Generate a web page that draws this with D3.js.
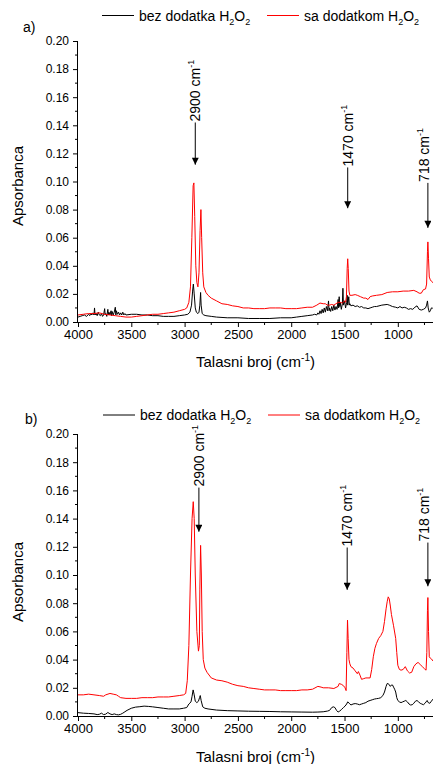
<!DOCTYPE html>
<html><head><meta charset="utf-8">
<script src="https://cdn.jsdelivr.net/npm/d3@7"></script>
<style>
html,body{margin:0;padding:0;background:#fff;}
svg{display:block;font-family:"Liberation Sans",Arial,sans-serif;}
</style></head>
<body>
<svg id="chart" width="433" height="764"></svg>
<script>
// ---------- DATA ----------
const xTicks = [4000, 3500, 3000, 2500, 2000, 1500, 1000];
const yTicks = [0.00, 0.02, 0.04, 0.06, 0.08, 0.10, 0.12, 0.14, 0.16, 0.18, 0.20];
const seriesNames = ["bez dodatka", "sa dodatkom"];

// panel a) black (bez dodatka H2O2): wavenumber, absorbance*1000
const aBlackWn = [4000,3980,3960,3940,3920,3900,3890,3880,3870,3860,3850,3845,3840,3830,3820,3810,3800,3790,3780,3770,3760,3750,3745,3740,3730,3720,3715,3710,3700,3690,3685,3680,3670,3660,3650,3645,3640,3630,3620,3610,3600,3590,3580,3570,3560,3550,3500,3450,3400,3350,3300,3250,3200,3150,3100,3050,3000,2970,2950,2935,2925,2918,2910,2900,2890,2875,2865,2857,2850,2845,2835,2820,2800,2750,2700,2600,2500,2400,2300,2200,2100,2000,1950,1900,1850,1800,1780,1760,1750,1740,1730,1720,1710,1700,1690,1680,1670,1660,1650,1645,1640,1630,1620,1610,1600,1590,1580,1570,1560,1555,1550,1545,1540,1530,1520,1515,1510,1500,1490,1480,1475,1470,1460,1455,1450,1440,1420,1400,1380,1360,1340,1320,1300,1280,1260,1240,1220,1200,1150,1100,1080,1050,1020,1000,980,960,940,920,900,880,860,840,820,800,780,760,740,730,722,715,705,695,685,675,670];
const aBlackAbs = [3.5,4,4.5,5,4,5.5,4.5,6,5,6.5,5,10,5,6,4.5,7,5,4.5,6,4,5,9.5,5,6,4,9,5,7,5,8,4.5,7.5,5,7,10.5,5,8,5.5,7,5,6.5,5,7,5,6,5,5.5,5.5,5,5,4.5,4.5,4,4,4,4.5,5,5.5,7,12,22,27,20,10,7,6,7,12,21,12,6,5,4.5,4,3.5,3,3,2.5,2.5,2.5,3,3,3.5,4,4.5,5,5.5,5,6.5,5.5,8,6,9,6.5,10,7,11,8,15,8,10,7.5,11,8,12,8.5,11,9,16,10,18,11,14,9,13,24,12,15,10,14,19,12,18,12,13,11.5,12,11,11.5,10.5,11,10,10,9.5,10,10.5,11,11,12,12.5,12,11,10.5,10,11,10,10.5,10,9,9.5,9,10.5,11.5,9,8.5,9,10,12,15,10,7,8,10,10,9.5];

// panel a) red (sa dodatkom H2O2)
const aRedWn = [4000,3950,3900,3850,3800,3750,3700,3650,3600,3550,3500,3450,3400,3350,3300,3250,3200,3150,3100,3050,3000,2980,2960,2945,2932,2920,2913,2905,2895,2885,2875,2865,2855,2847,2840,2830,2820,2800,2780,2750,2700,2650,2600,2550,2500,2450,2400,2350,2300,2250,2200,2150,2100,2050,2000,1950,1900,1850,1800,1760,1730,1700,1680,1660,1640,1620,1600,1580,1560,1540,1520,1500,1490,1482,1475,1470,1465,1458,1450,1430,1400,1380,1350,1320,1300,1280,1260,1240,1200,1150,1100,1050,1000,950,900,850,820,800,780,760,740,730,722,718,712,705,695,685,670];
const aRedAbs = [5,5.5,6,6,6.5,5.5,5,4.5,4,3.5,3.5,4,4.5,5,5.5,5.5,6,6.5,7,8,9,10,14,25,60,97,99,75,40,28,25,35,65,80,60,35,25,21,19,17,15,13,12.5,11.5,11,10,10,9.5,9.5,9.5,10,10,10,9.5,9.5,9.5,10,10.5,10.5,12,13.5,13,13,12,12,12.5,12,13,14,14,13.5,15,14,18,38,45,38,22,19,19,19.5,19,18,17,17,16,18,18.5,19,19.5,21,21.5,21.5,22,22,22.5,21.5,20.5,20.5,23,23.5,27,50,57,45,32,30,29,28];

// panel b) black
const bBlackWn = [4000,3950,3900,3850,3820,3800,3780,3760,3740,3720,3700,3680,3660,3640,3620,3600,3580,3560,3540,3500,3460,3420,3380,3340,3300,3250,3200,3150,3100,3050,3010,2980,2960,2940,2930,2920,2910,2900,2885,2870,2860,2853,2845,2830,2810,2780,2700,2600,2500,2400,2300,2200,2100,2000,1900,1800,1750,1700,1660,1640,1620,1605,1590,1575,1560,1545,1530,1510,1495,1480,1470,1455,1440,1420,1400,1380,1360,1340,1320,1300,1280,1260,1240,1220,1200,1180,1160,1140,1125,1110,1100,1090,1080,1070,1060,1050,1040,1030,1020,1010,1000,985,970,955,940,925,910,895,880,865,850,835,820,805,790,775,760,745,735,725,715,700,685,670];
const bBlackAbs = [2.4,2,1.8,1.5,1,1.2,2,1,1.3,2.5,1.5,1,1.5,1,0.8,1.2,2,3,4,5.5,6.3,6.6,7,6.8,6.5,6,5.5,5,5,5,5.5,6,8.5,10,14,18.5,15,10.5,9.5,10.5,13,14.5,11,6.5,5.5,5,4.2,3.8,3.6,3.4,3.3,3.2,3,2.9,2.8,2.7,2.8,3,3.5,4,6,6.5,6,4,2.8,3.5,4.5,6,7,8.5,10,9,7.8,8.5,8.8,8.5,8,8.5,9,9.5,10.5,11,11.5,12,12.3,12.5,13,14.5,17,21,23,23,22,21,22,22,20.5,19,17,13,11,10,9.5,10,10.5,11,10,8.5,7.8,8,9,10.5,11,10,9,8.5,8,9,10,11,9.5,9,10.5,12];

// panel b) red
const bRedWn = [4000,3950,3900,3850,3800,3760,3740,3700,3670,3640,3620,3600,3550,3500,3450,3400,3350,3300,3250,3200,3150,3100,3050,3010,2990,2975,2960,2945,2930,2919,2910,2900,2885,2870,2862,2857,2850,2843,2835,2825,2810,2790,2750,2700,2650,2600,2550,2500,2450,2400,2350,2300,2250,2200,2150,2100,2050,2000,1950,1900,1850,1800,1750,1720,1700,1650,1600,1560,1550,1530,1510,1495,1485,1478,1472,1466,1458,1450,1440,1420,1400,1380,1370,1355,1340,1320,1300,1280,1260,1245,1230,1215,1200,1180,1160,1140,1125,1110,1100,1090,1080,1070,1060,1040,1020,1010,1000,985,970,950,930,910,890,870,850,830,810,790,770,750,735,728,722,718,712,705,695,685,670];
const bRedAbs = [15,15,15.5,15,14.5,14,15,16,15.5,15,14,13,12.5,12.5,12.5,13,13,13,13.5,13.5,13.5,14,14.5,15,16,25,50,100,140,152,140,100,60,46,50,90,121,100,60,40,34,31,27,25.5,25,24,22.5,21.5,21,20,19.5,19,18.5,18.5,18.5,18,18,18,18,18.5,18.5,19,21,20.5,20,20,19.5,21,23,22.5,21.5,20,18,45,68,55,40,37,35,34,32,30,31.5,29,26,26.5,27,27,27,33,42,48,51.5,55,57,60,67,76,81,84.5,83,78,72,64,55,45,36,33,32.5,33,35,32,30.5,31,35,37,38,36.5,35,33.5,32.5,45,75,84,60,42,41,40.5,39];

// peak annotations: [label, wavenumber of arrow, absorbance at arrow tip, absorbance at text start]
const aNotes = [["2900", 2900, 0.112, 0.142], ["1470", 1470, 0.081, 0.110], ["718", 718, 0.067, 0.099]];
const bNotes = [["2900", 2866, 0.1307, 0.162], ["1470", 1475, 0.0895, 0.1195], ["718", 718, 0.092, 0.123]];

// ---------- DRAW ----------
const svg = d3.select("#chart");
const FONT = '"Liberation Sans",Arial,sans-serif';
const defs = svg.append("defs");
defs.append("marker").attr("id","arr").attr("viewBox","0 0 10 10").attr("refX",10).attr("refY",5)
  .attr("markerWidth",9).attr("markerHeight",7).attr("markerUnits","userSpaceOnUse").attr("orient","auto")
  .append("path").attr("d","M0,0 L10,5 L0,10 Z").attr("fill","#000");

function toPts(wn, ab){ return wn.map((w,i)=>[w, ab[i]/1000]); }

function panel(opts){
  const left = 78, right = 433, top = opts.top, bottom = opts.bottom;
  const x = d3.scaleLinear().domain([4000, 670]).range([left, right]);
  const y = d3.scaleLinear().domain([0, 0.20]).range([bottom, top]);
  const g = svg.append("g");
  const cid = "clip" + opts.id;
  defs.append("clipPath").attr("id", cid).append("rect")
    .attr("x", left).attr("y", top - 2).attr("width", right - left).attr("height", bottom - top + 2);

  const line = d3.line().x(d=>x(d[0])).y(d=>y(d[1]));
  const lg = g.append("g").attr("clip-path", `url(#${cid})`);
  lg.append("path").datum(opts.black).attr("d", line).attr("fill","none").attr("stroke","#000").attr("stroke-width",1).attr("stroke-linejoin","round");
  lg.append("path").datum(opts.red).attr("d", line).attr("fill","none").attr("stroke","#ff0000").attr("stroke-width",1).attr("stroke-linejoin","round");

  // x axis
  const xa = g.append("g").attr("transform", `translate(0,${bottom})`)
    .call(d3.axisBottom(x).tickValues(xTicks).tickSize(5).tickPadding(3).tickFormat(d3.format("d")));
  xa.append("g").selectAll("line").data(d3.range(3750, 650, -500)).join("line")
    .attr("x1", d=>x(d)).attr("x2", d=>x(d)).attr("y1",0).attr("y2",3).attr("stroke","#000");
  xa.select(".domain").attr("d", `M${left},0.5H${right}`);
  xa.selectAll("text").attr("font-size", 13).attr("font-family", FONT).attr("fill","#000");

  // y axis
  const ya = g.append("g").attr("transform", `translate(${left},0)`)
    .call(d3.axisLeft(y).tickValues(yTicks).tickSize(5).tickPadding(4).tickFormat(d3.format(".2f")));
  ya.append("g").selectAll("line").data(d3.range(0.01, 0.2, 0.02)).join("line")
    .attr("x1",0).attr("x2",-3).attr("y1", d=>y(d)).attr("y2", d=>y(d)).attr("stroke","#000");
  ya.select(".domain").attr("d", `M-0.5,${top}V${bottom}`);
  ya.selectAll("text").attr("font-size", 12).attr("font-family", FONT).attr("fill","#000");

  // axis titles
  g.append("text").attr("x", (left+right)/2).attr("y", opts.xTitleY).attr("text-anchor","middle")
    .attr("font-size",15).attr("font-family",FONT)
    .call(t=>{ t.append("tspan").text("Talasni broj (cm");
      t.append("tspan").attr("font-size",10).attr("dy",-6).text("-1");
      t.append("tspan").attr("dy",6).text(")"); });
  g.append("text").attr("transform", `translate(23,${opts.yTitleY}) rotate(-90)`).attr("text-anchor","middle")
    .attr("font-size",15).attr("font-family",FONT).text("Apsorbanca");

  // panel label
  g.append("text").attr("x", opts.labX).attr("y", opts.labY).attr("font-size",14).attr("font-family",FONT).text(opts.label);

  // legend
  const ly = opts.legY;
  [[opts.legX1, "#000", seriesNames[0]], [opts.legX2, "#ff0000", seriesNames[1]]].forEach(([lx, col, name])=>{
    g.append("line").attr("x1", lx).attr("x2", lx+32).attr("y1", ly).attr("y2", ly).attr("stroke", col).attr("stroke-width",1);
    g.append("text").attr("x", lx+37).attr("y", ly+5).attr("font-size",14).attr("font-family",FONT)
      .call(t=>{ t.append("tspan").text(name + " H");
        t.append("tspan").attr("font-size",9).attr("dy",4).text("2");
        t.append("tspan").attr("dy",-4).text("O");
        t.append("tspan").attr("font-size",9).attr("dy",4).text("2"); });
  });

  // annotations
  opts.notes.forEach(([lab, wn, tip, start])=>{
    const ax = x(wn);
    const off = ax > 420 ? 1.5 : 5;
    g.append("line").attr("x1", ax).attr("x2", ax).attr("y1", y(start)).attr("y2", y(tip))
      .attr("stroke","#000").attr("stroke-width",1).attr("marker-end","url(#arr)");
    g.append("text").attr("transform", `translate(${ax+off},${y(start)-1}) rotate(-90)`)
      .attr("font-size",14).attr("font-family",FONT).attr("text-anchor","start")
      .call(t=>{ t.append("tspan").text(lab + " cm");
        t.append("tspan").attr("font-size",9).attr("dy",-6).text("-1"); });
  });
}

panel({id:"a", top:41, bottom:322, black:toPts(aBlackWn,aBlackAbs), red:toPts(aRedWn,aRedAbs),
  xTitleY:367, yTitleY:186, label:"a)", labX:23, labY:32, legY:15.5, legX1:102, legX2:267, notes:aNotes});
panel({id:"b", top:434, bottom:716, black:toPts(bBlackWn,bBlackAbs), red:toPts(bRedWn,bRedAbs),
  xTitleY:762, yTitleY:582, label:"b)", labX:25, labY:424, legY:415, legX1:103, legX2:268, notes:bNotes});
</script>
</body></html>
